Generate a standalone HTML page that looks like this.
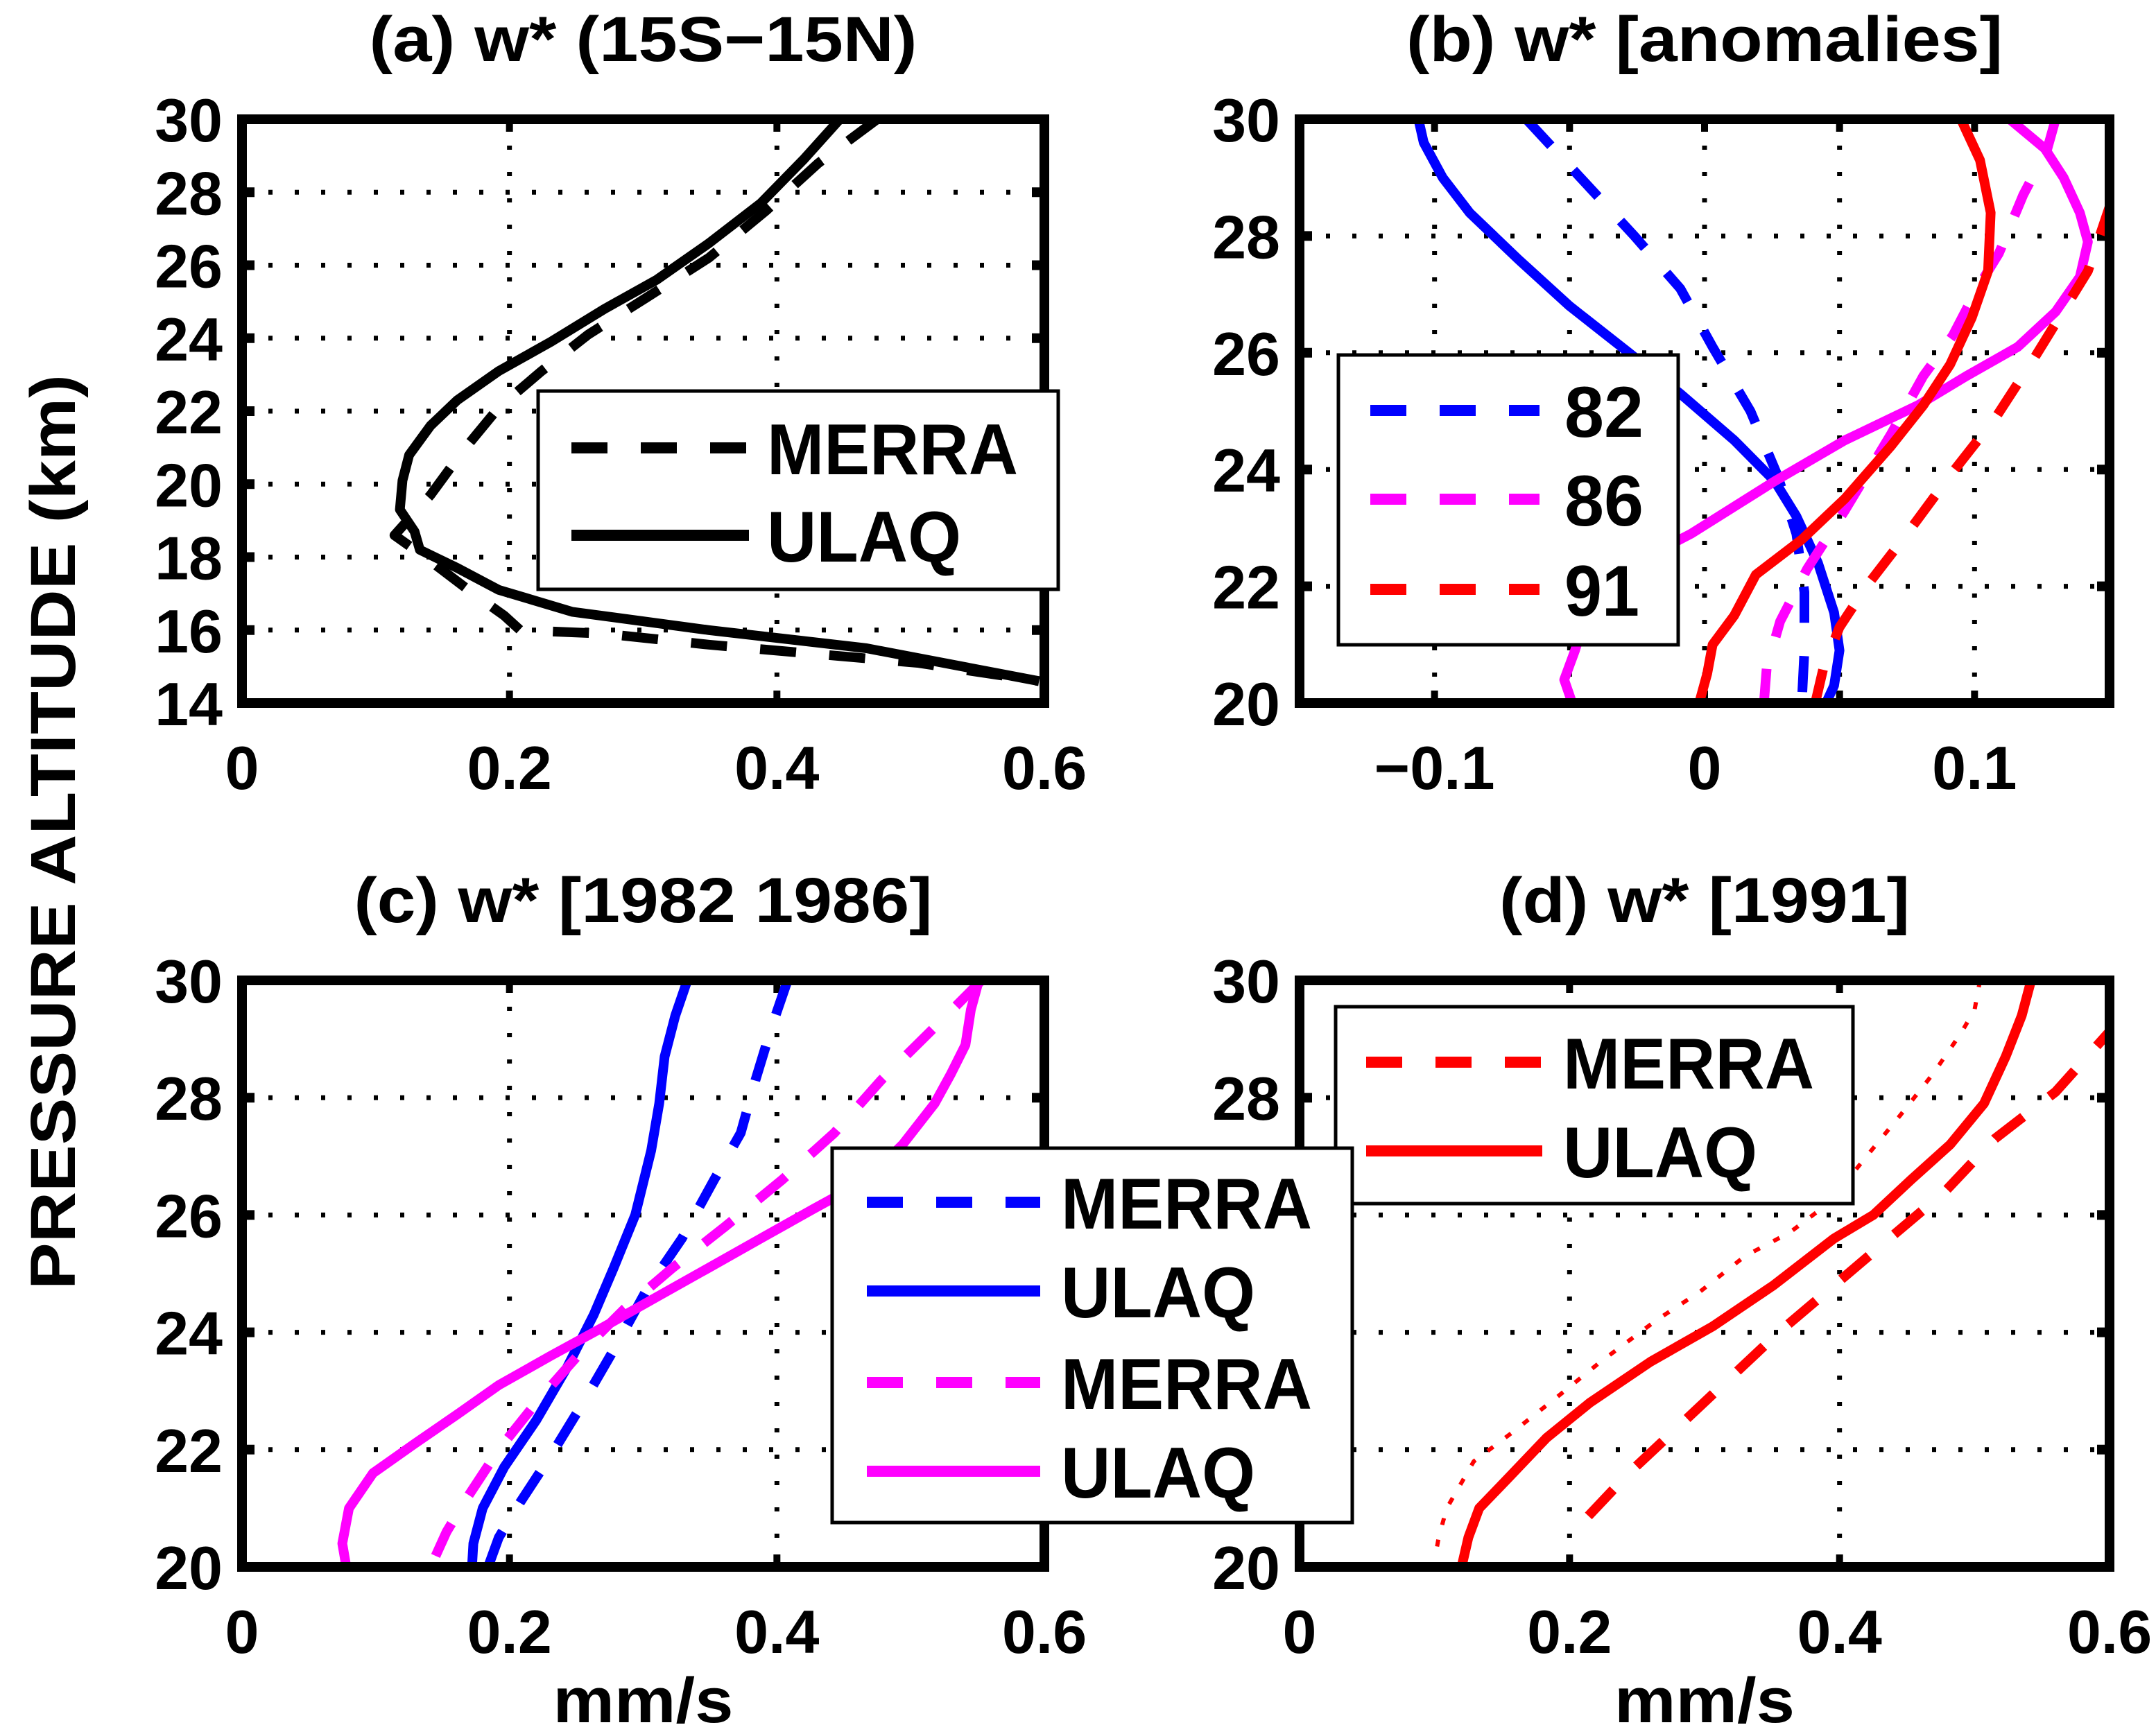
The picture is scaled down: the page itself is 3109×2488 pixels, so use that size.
<!DOCTYPE html>
<html><head><meta charset="utf-8"><style>
html,body{margin:0;padding:0;background:#fff}
svg{display:block}
text{font-family:"Liberation Sans",Arial,sans-serif;font-weight:bold;fill:#000}
</style></head><body>
<svg id="fig" xmlns="http://www.w3.org/2000/svg" width="3109" height="2488" viewBox="0 0 1554.5 1244">
<rect width="1554.5" height="1244" fill="#fff"/>
<text transform="translate(54,600) rotate(-90)" text-anchor="middle" font-size="46" textLength="660" lengthAdjust="spacingAndGlyphs">PRESSURE ALTITUDE (km)</text>
</svg>
<script>
// ---- Panel (a) data ----
const aMerraZ = [30,28.8,27.5,26.2,25.1,24.1,23.1,22.1,20.9,19.7,18.6,18.0,17.0,16.4,16.0,15.9,15.6,15.1,14.6];
const aMerraW = [0.475,0.431,0.392,0.349,0.302,0.259,0.224,0.192,0.165,0.141,0.114,0.137,0.173,0.196,0.208,0.271,0.349,0.506,0.596];
const aUlaqZ = [30,28.9,27.7,26.6,25.6,24.8,23.9,23.1,22.3,21.6,20.8,20.1,19.3,18.7,18.2,17.7,17.1,16.5,16.0,15.5,14.6];
const aUlaqW = [0.447,0.420,0.388,0.349,0.310,0.271,0.231,0.192,0.161,0.141,0.125,0.120,0.118,0.129,0.133,0.161,0.192,0.247,0.349,0.467,0.596];
// ---- Panel (b) data ----
const b82sZ = [30,29.6,29.0,28.4,27.6,26.8,26.0,25.3,24.5,23.8,23.2,22.4,21.55,20.9,20.3,20];
const b82sW = [-0.106,-0.104,-0.097,-0.087,-0.069,-0.050,-0.028,-0.009,0.011,0.026,0.034,0.042,0.048,0.050,0.048,0.045];
const b82dZ = [30,29,28,27.1,26.1,25,23.9,22.9,21.9,20.9,20];
const b82dW = [-0.066,-0.046,-0.026,-0.009,0.003,0.017,0.027,0.034,0.037,0.037,0.036];
const b86sZ = [30,29.5,29.0,28.4,27.9,27.3,26.7,26.1,25.6,25.1,24.5,23.8,22.9,22.3,21.7,21.2,20.9,20.4,20];
const b86sW = [0.113,0.126,0.133,0.139,0.142,0.139,0.130,0.116,0.097,0.079,0.052,0.026,-0.005,-0.030,-0.042,-0.046,-0.048,-0.052,-0.049];
const b86dZ = [30,29.5,28.7,27.7,27.1,26.3,25.6,24.6,23.3,22.3,21.4,20.6,20];
const b86dW = [0.130,0.127,0.118,0.109,0.101,0.092,0.081,0.069,0.052,0.038,0.028,0.023,0.022];
const b91sZ = [30,29.3,28.4,27.4,26.6,25.8,25.1,24.4,23.5,22.8,22.2,21.5,21.0,20.5,20];
const b91sW = [0.095,0.102,0.106,0.105,0.099,0.091,0.081,0.069,0.052,0.036,0.019,0.011,0.003,0.001,-0.002];
const b91dZ = [29.6,28.5,27.4,25.9,24.9,23.9,22.9,22.0,21.3,20.6,20];
const b91dW = [0.165,0.150,0.142,0.122,0.108,0.091,0.075,0.060,0.050,0.044,0.041];
// ---- Panel (c) data ----
const c82uZ = [30,29.4,28.7,27.9,27.1,26.0,25.1,24.3,23.4,22.5,21.7,21.0,20.4,20];
const c82uW = [0.333,0.324,0.316,0.312,0.306,0.294,0.278,0.263,0.243,0.220,0.196,0.180,0.173,0.172];
const c82mZ = [30,29.2,28.3,27.4,26.6,25.6,24.7,23.7,22.8,21.9,21.1,20.5,20];
const c82mW = [0.408,0.396,0.384,0.373,0.353,0.329,0.302,0.278,0.255,0.231,0.208,0.192,0.184];
const c86uZ = [30,29.5,28.9,28.4,27.9,27.2,26.6,26.1,25.6,25.1,24.6,24.1,23.6,23.1,22.6,22.1,21.6,21.0,20.4,20];
const c86uW = [0.551,0.545,0.541,0.530,0.518,0.494,0.467,0.427,0.388,0.349,0.310,0.271,0.231,0.192,0.161,0.129,0.098,0.080,0.075,0.078];
const c86mZ = [30,29.2,28.3,27.4,26.6,25.8,25.1,24.4,23.6,22.8,22.0,21.2,20.6,20.1];
const c86mW = [0.553,0.518,0.478,0.443,0.404,0.361,0.322,0.286,0.251,0.220,0.192,0.169,0.153,0.143];
// ---- Panel (d) data ----
const dUlaqZ = [30,29.4,28.7,27.9,27.2,26.6,26.0,25.6,24.8,24.1,23.5,22.8,22.2,21.5,21.0,20.5,20];
const dUlaqW = [0.542,0.535,0.523,0.507,0.482,0.453,0.425,0.396,0.351,0.306,0.260,0.215,0.183,0.154,0.133,0.125,0.120];
const dMerraZ = [29.3,29.1,28.1,27.3,26.4,25.6,24.8,24.0,23.2,22.4,21.6,20.7,20.4];
const dMerraW = [0.61,0.599,0.560,0.515,0.478,0.437,0.396,0.355,0.318,0.281,0.244,0.207,0.203];
const dDotZ = [30,29.5,29.1,28.4,27.7,27.0,26.2,25.7,25.3,24.7,24.2,23.5,22.9,22.3,21.8,21.0,20.5,20.1];
const dDotW = [0.504,0.500,0.490,0.469,0.445,0.420,0.392,0.363,0.330,0.297,0.264,0.223,0.191,0.158,0.129,0.109,0.103,0.100];
// ---- axes ticks ----
const aYTicks = [14,16,18,20,22,24,26,28,30];
const bYTicks = [20,22,24,26,28,30];
const xTicks06 = [0,0.2,0.4,0.6];
const bXTicks = [-0.1,0,0.1];
const bXGrid = [-0.1,-0.05,0,0.05,0.1];

const NS='http://www.w3.org/2000/svg';
const svg=document.getElementById('fig');
function mk(tag,attrs,parent){const e=document.createElementNS(NS,tag);for(const k in attrs)e.setAttribute(k,attrs[k]);(parent||svg).appendChild(e);return e;}

function panel(id,x0,x1,y0,y1,xmin,xmax,zmin,zmax,yt,xt,xgrid,title,titleW,xlabel){
  const g=mk('g',{});
  
  
  const sx=v=>x0+(v-xmin)/(xmax-xmin)*(x1-x0);
  const sy=v=>y1-(v-zmin)/(zmax-zmin)*(y1-y0);
  const cp=mk('clipPath',{id:'clip-'+id},g);
  mk('rect',{x:x0,y:y0,width:x1-x0,height:y1-y0},cp);
  yt.forEach(v=>{ if(v===zmin||v===zmax) return;
    const l=mk('line',{x1:x0,x2:x1,y1:sy(v),y2:sy(v),stroke:'#000','stroke-width':3.5,'stroke-dasharray':'3 16'},g);
    });
  xgrid.forEach(v=>{ if(v===xmin||v===xmax) return;
    const l=mk('line',{x1:sx(v),x2:sx(v),y1:y0,y2:y1,stroke:'#000','stroke-width':3.5,'stroke-dasharray':'3 16'},g);
    });
  yt.forEach(v=>{
    mk('line',{x1:x0,x2:x0+9,y1:sy(v),y2:sy(v),stroke:'#000','stroke-width':7},g);
    mk('line',{x1:x1-9,x2:x1,y1:sy(v),y2:sy(v),stroke:'#000','stroke-width':7},g);
    const t=mk('text',{x:x0-14,y:sy(v)+16,'text-anchor':'end','font-size':44},g);t.textContent=v;
    });
  xgrid.forEach(v=>{
    mk('line',{x1:sx(v),x2:sx(v),y1:y1,y2:y1-9,stroke:'#000','stroke-width':5},g);
    mk('line',{x1:sx(v),x2:sx(v),y1:y0,y2:y0+9,stroke:'#000','stroke-width':5},g);});
  xt.forEach(v=>{
    const t=mk('text',{x:sx(v),y:y1+62,'text-anchor':'middle','font-size':44},g);
    t.textContent=(v<0?'\u2212':'')+String(Math.abs(v));
    });
  const tt=mk('text',{x:(x0+x1)/2,y:y0-42,'text-anchor':'middle','font-size':46,textLength:titleW,lengthAdjust:'spacingAndGlyphs'},g);tt.textContent=title;
  
  if(xlabel){const xl=mk('text',{x:(x0+x1)/2,y:y1+112,'text-anchor':'middle','font-size':46,textLength:130,lengthAdjust:'spacingAndGlyphs'},g);xl.textContent=xlabel;
    }
  const cg=mk('g',{'clip-path':'url(#clip-'+id+')'},g);
  const frame=mk('rect',{x:x0,y:y0,width:x1-x0,height:y1-y0,fill:'none',stroke:'#000','stroke-width':7},g);
  
  return {g,cg,sx,sy};
}
function series(p,W,Z,color,style,name){
  const pts=W.map((w,i)=>p.sx(w).toFixed(1)+','+p.sy(Z[i]).toFixed(1)).join(' ');
  const a={points:pts,fill:'none',stroke:color,'stroke-width':7,'stroke-linejoin':'round'};
  if(style==='dash')a['stroke-dasharray']='26 24';
  if(style==='dot'){a['stroke-width']=3;a['stroke-dasharray']='5 11';}
  const pl=mk('polyline',a,p.cg);
  
  
}
function legend(x,y,w,h,entries,lx0,lx1,tx){
  const lg=mk('g',{},svg);
  
  
  mk('rect',{x:x,y:y,width:w,height:h,fill:'#fff',stroke:'#000','stroke-width':2.5},lg);
  entries.forEach(e=>{
    const a={x1:lx0,x2:lx1,y1:e.y,y2:e.y,stroke:e.c,'stroke-width':8};
    if(e.s==='dash')a['stroke-dasharray']='26 24';
    mk('line',a,lg);
    const tl={MERRA:181,ULAQ:140,'82':57,'86':57,'91':54}[e.t];
    const t=mk('text',{x:tx,y:e.y+19,'font-size':52,textLength:tl,lengthAdjust:'spacingAndGlyphs'},lg);t.textContent=e.t;
    
  });
}
const pa=panel('a',174.5,753,86,507,0,0.6,14,30,aYTicks,xTicks06,[0,0.2,0.4,0.6],'(a) w* (15S\u221215N)',395,null);
series(pa,aMerraW,aMerraZ,'#000','dash','merra-line');
series(pa,aUlaqW,aUlaqZ,'#000','solid','ulaq-line');
legend(388,282,375,143,[{y:323,c:'#000',s:'dash',t:'MERRA'},{y:386,c:'#000',s:'solid',t:'ULAQ'}],412,540,553);
const pb=panel('b',937,1521,86,507,-0.15,0.15,20,30,bYTicks,bXTicks,bXGrid,'(b) w* [anomalies]',430,null);
series(pb,b82dW,b82dZ,'#0000ff','dash','line-82-merra');
series(pb,b82sW,b82sZ,'#0000ff','solid','line-82-ulaq');
series(pb,b86dW,b86dZ,'#ff00ff','dash','line-86-merra');
series(pb,b86sW,b86sZ,'#ff00ff','solid','line-86-ulaq');
series(pb,b91dW,b91dZ,'#ff0000','dash','line-91-merra');
series(pb,b91sW,b91sZ,'#ff0000','solid','line-91-ulaq');
legend(965,256,245,209,[{y:296,c:'#0000ff',s:'dash',t:'82'},{y:360,c:'#ff00ff',s:'dash',t:'86'},{y:425,c:'#ff0000',s:'dash',t:'91'}],988,1110,1128);
const pc=panel('c',174.5,753,707,1130,0,0.6,20,30,bYTicks,xTicks06,[0,0.2,0.4,0.6],'(c) w* [1982 1986]',417,'mm/s');
series(pc,c82mW,c82mZ,'#0000ff','dash','line-1982-merra');
series(pc,c82uW,c82uZ,'#0000ff','solid','line-1982-ulaq');
series(pc,c86mW,c86mZ,'#ff00ff','dash','line-1986-merra');
series(pc,c86uW,c86uZ,'#ff00ff','solid','line-1986-ulaq');
const pd=panel('d',937,1521,707,1130,0,0.6,20,30,bYTicks,xTicks06,[0,0.2,0.4,0.6],'(d) w* [1991]',296,'mm/s');
series(pd,dDotW,dDotZ,'#ff0000','dot','line-1991-dotted');
series(pd,dMerraW,dMerraZ,'#ff0000','dash','line-1991-merra');
series(pd,dUlaqW,dUlaqZ,'#ff0000','solid','line-1991-ulaq');
legend(963,726,373,142,[{y:766,c:'#ff0000',s:'dash',t:'MERRA'},{y:830,c:'#ff0000',s:'solid',t:'ULAQ'}],985,1112,1127);
legend(600,828,375,270,[{y:867,c:'#0000ff',s:'dash',t:'MERRA'},{y:931,c:'#0000ff',s:'solid',t:'ULAQ'},{y:997,c:'#ff00ff',s:'dash',t:'MERRA'},{y:1061,c:'#ff00ff',s:'solid',t:'ULAQ'}],625,750,765);
</script>
</body></html>
